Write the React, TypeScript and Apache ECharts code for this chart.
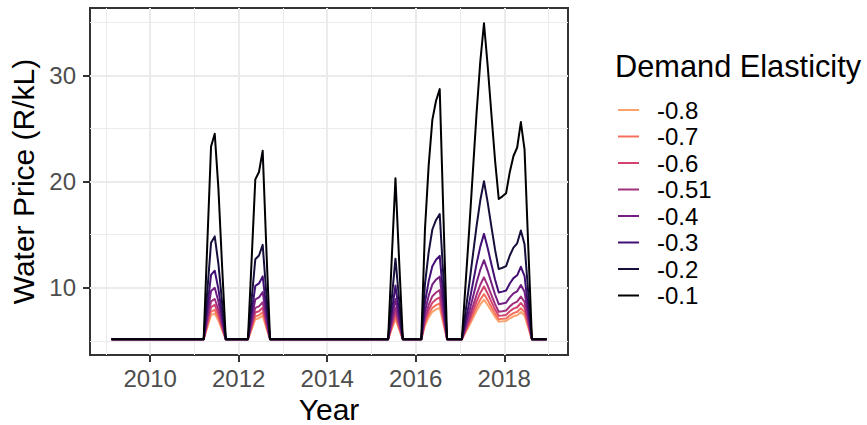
import React, { useEffect, useRef } from "react";
import * as echarts from "echarts";

// Elasticity scenarios, listed in legend order (most elastic first)
const elasticities = ["-0.8", "-0.7", "-0.6", "-0.51", "-0.4", "-0.3", "-0.2", "-0.1"];
const lineColors = ["#FCA36D", "#F6705C", "#D3436E", "#A3307E", "#721F81", "#420F74", "#160F3B", "#000004"];

// Monthly series, Feb 2009 .. Dec 2018
const firstMonth = "2009-02";
const lastMonth = "2018-12";
// Tariff charged outside restriction periods (R/kL)
const baseTariff = 5.15;
// First month of each restriction period
const spikeStartMonths = ["2011-04", "2012-04", "2015-06", "2016-03", "2017-02"];

// Prices during each restriction period, one list per period
const priceE08 = [
  [6.29, 7.42, 7.57, 6.92, 6.01],
  [6.08, 7.03, 7.12, 7.37, 6.21],
  [6.11, 7.04, 6.07],
  [6.44, 7.19, 7.73, 7.96, 8.09, 6.61],
  [5.79, 6.44, 7.13, 7.82, 8.42, 8.87, 8.37, 7.81, 7.26, 6.8, 6.83, 6.87, 7.12, 7.31, 7.41, 7.71, 7.38, 6.24],
];
const priceE07 = [
  [6.46, 7.74, 7.91, 7.17, 6.13],
  [6.21, 7.3, 7.4, 7.69, 6.36],
  [6.24, 7.31, 6.2],
  [6.63, 7.49, 8.1, 8.36, 8.51, 6.81],
  [5.89, 6.63, 7.41, 8.2, 8.89, 9.4, 8.83, 8.19, 7.56, 7.04, 7.07, 7.11, 7.4, 7.61, 7.73, 8.07, 7.7, 6.4],
];
const priceE06 = [
  [6.68, 8.18, 8.38, 7.51, 6.29],
  [6.39, 7.66, 7.78, 8.11, 6.56],
  [6.43, 7.68, 6.38],
  [6.88, 7.88, 8.59, 8.89, 9.08, 7.09],
  [6.01, 6.88, 7.79, 8.71, 9.51, 10.11, 9.44, 8.69, 7.96, 7.35, 7.39, 7.44, 7.78, 8.03, 8.16, 8.56, 8.13, 6.61],
];
const priceE051 = [
  [6.94, 8.71, 8.94, 7.92, 6.49],
  [6.61, 8.1, 8.24, 8.63, 6.81],
  [6.65, 8.12, 6.59],
  [7.18, 8.36, 9.2, 9.55, 9.77, 7.43],
  [6.16, 7.18, 8.26, 9.34, 10.28, 10.98, 10.2, 9.32, 8.45, 7.74, 7.79, 7.85, 8.24, 8.53, 8.69, 9.16, 8.65, 6.87],
];
const priceE04 = [
  [7.44, 9.69, 9.99, 8.69, 6.86],
  [7.01, 8.91, 9.09, 9.59, 7.26],
  [7.06, 8.94, 6.99],
  [7.74, 9.24, 10.31, 10.76, 11.04, 8.06],
  [6.44, 7.74, 9.11, 10.49, 11.69, 12.59, 11.59, 10.46, 9.36, 8.45, 8.51, 8.59, 9.09, 9.46, 9.66, 10.26, 9.61, 7.34],
];
const priceE03 = [
  [8.2, 11.2, 11.6, 9.87, 7.43],
  [7.63, 10.17, 10.4, 11.07, 7.97],
  [7.7, 10.2, 7.6],
  [8.6, 10.6, 12.03, 12.63, 13.0, 9.03],
  [6.87, 8.6, 10.43, 12.27, 13.87, 15.07, 13.73, 12.23, 10.77, 9.55, 9.63, 9.73, 10.4, 10.9, 11.17, 11.97, 11.1, 8.07],
];
const priceE02 = [
  [9.73, 14.23, 14.83, 12.23, 8.58],
  [8.88, 12.68, 13.03, 14.03, 9.38],
  [8.98, 12.73, 8.83],
  [10.33, 13.33, 15.48, 16.38, 16.93, 10.98],
  [7.73, 10.33, 13.08, 15.83, 18.23, 20.03, 18.03, 15.78, 13.58, 11.75, 11.88, 12.03, 13.03, 13.78, 14.18, 15.38, 14.08, 9.53],
];
const priceE01 = [
  [14.3, 23.3, 24.5, 19.3, 12.0],
  [12.6, 20.2, 20.9, 22.9, 13.6],
  [12.8, 20.3, 12.5],
  [15.5, 21.5, 25.8, 27.6, 28.7, 16.8],
  [10.3, 15.5, 21.0, 26.5, 31.3, 34.9, 30.9, 26.4, 22.0, 18.35, 18.6, 18.9, 20.9, 22.4, 23.2, 25.6, 23.0, 13.9],
];
const pricesByElasticity = [priceE08, priceE07, priceE06, priceE051, priceE04, priceE03, priceE02, priceE01];

// Axis ticks
const yearTicks = [2010, 2012, 2014, 2016, 2018];
const yearMinorTicks = [2009, 2011, 2013, 2015, 2017, 2019];
const priceTicks = [10, 20, 30];
const priceMinorTicks = [5, 15, 25, 35];

const FONT = "'Liberation Sans', Arial, Helvetica, sans-serif";

function monthIndex(ym: string): number {
  const [y, m] = ym.split("-").map(Number);
  return y * 12 + (m - 1);
}

function buildSeriesData(periods: number[][]): [number, number][] {
  const start = monthIndex(firstMonth);
  const end = monthIndex(lastMonth);
  const values: number[] = [];
  for (let k = start; k <= end; k++) values.push(baseTariff);
  spikeStartMonths.forEach((ym, p) => {
    const offset = monthIndex(ym) - start;
    periods[p].forEach((v, j) => {
      values[offset + j] = v;
    });
  });
  // mid-month position as a fractional year
  return values.map((v, i) => [(start + i + 0.5) / 12, v]);
}

export default function App() {
  const ref = useRef<HTMLDivElement>(null);

  useEffect(() => {
    if (!ref.current) return;
    const chart = echarts.init(ref.current, undefined, { renderer: "svg" });

    const gridLine = (width: number) => ({ show: true, lineStyle: { color: "#EBEBEB", width } });

    const option: any = {
      animation: false,
      backgroundColor: "#FFFFFF",
      title: {
        text: "Demand Elasticity",
        left: 615,
        top: 51,
        padding: 0,
        textStyle: { fontFamily: FONT, fontSize: 30.75, fontWeight: "normal", color: "#000000" },
      },
      legend: {
        orient: "vertical",
        left: 618,
        top: 98,
        padding: 0,
        itemWidth: 21,
        itemHeight: 2,
        itemGap: 2.5,
        icon: "rect",
        selectedMode: false,
        data: elasticities,
        textStyle: { fontFamily: FONT, fontSize: 24, color: "#000000", padding: [0, 0, 0, 13] },
      },
      grid: {
        left: 90,
        top: 8,
        width: 478,
        height: 347,
        outerBoundsMode: "none",
        containLabel: false,
        show: true,
        borderColor: "#333333",
        borderWidth: 2,
        backgroundColor: "#FFFFFF",
      },
      xAxis: [
        {
          type: "value",
          min: 2008.64,
          max: 2019.44,
          name: "Year",
          nameLocation: "middle",
          nameGap: 38,
          nameTextStyle: { fontFamily: FONT, fontSize: 30, color: "#000000" },
          axisLine: { show: false },
          axisTick: { show: true, customValues: yearTicks, length: 7, lineStyle: { color: "#333333", width: 2 } },
          axisLabel: {
            customValues: yearTicks,
            margin: 11,
            fontFamily: FONT,
            fontSize: 24,
            color: "#4D4D4D",
            formatter: (v: number) => String(Math.round(v)),
          },
          splitLine: gridLine(2),
        },
        {
          type: "value",
          min: 2008.64,
          max: 2019.44,
          axisLine: { show: false },
          axisTick: { show: false, customValues: yearMinorTicks },
          axisLabel: { show: false, customValues: yearMinorTicks },
          splitLine: gridLine(1),
        },
      ],
      yAxis: [
        {
          type: "value",
          min: 3.663,
          max: 36.337,
          name: "Water Price (R/kL)",
          nameLocation: "middle",
          nameGap: 47,
          nameTextStyle: { fontFamily: FONT, fontSize: 30, color: "#000000" },
          axisLine: { show: false },
          axisTick: { show: true, customValues: priceTicks, length: 7, lineStyle: { color: "#333333", width: 2 } },
          axisLabel: {
            customValues: priceTicks,
            margin: 14,
            fontFamily: FONT,
            fontSize: 24,
            color: "#4D4D4D",
          },
          splitLine: gridLine(2),
        },
        {
          type: "value",
          min: 3.663,
          max: 36.337,
          axisLine: { show: false },
          axisTick: { show: false, customValues: priceMinorTicks },
          axisLabel: { show: false, customValues: priceMinorTicks },
          splitLine: gridLine(1),
        },
      ],
      series: elasticities.map((name, i) => ({
        name,
        type: "line",
        xAxisIndex: 0,
        yAxisIndex: 0,
        data: buildSeriesData(pricesByElasticity[i]),
        showSymbol: false,
        symbol: "none",
        color: lineColors[i],
        lineStyle: { color: lineColors[i], width: 2, join: "round" },
        emphasis: { disabled: true },
        z: 3 + i,
      })),
    };

    chart.setOption(option);
    return () => chart.dispose();
  }, []);

  return (
    <div
      ref={ref}
      style={{ position: "fixed", left: 0, top: 0, width: 867, height: 425, background: "#FFFFFF" }}
    />
  );
}
